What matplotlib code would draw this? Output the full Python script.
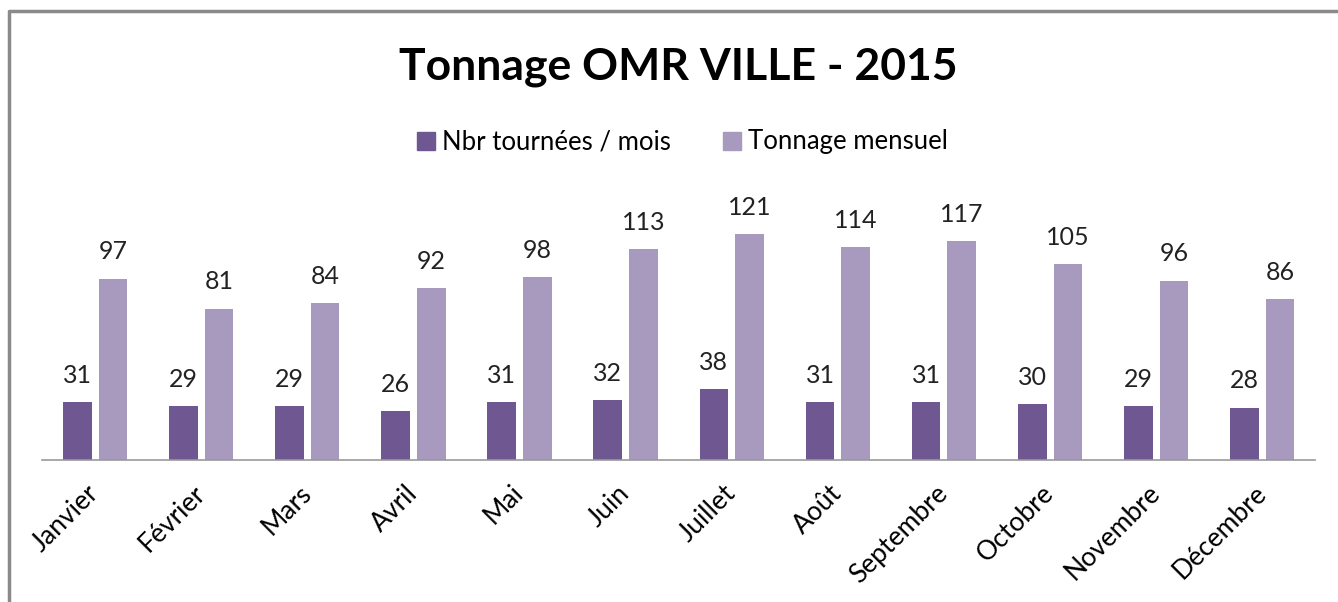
import matplotlib as mpl
import matplotlib.pyplot as plt
import numpy as np
from matplotlib.lines import Line2D
from matplotlib.patches import Patch

mpl.use("Agg")

months = ["Janvier", "Février", "Mars", "Avril", "Mai", "Juin",
          "Juillet", "Août", "Septembre", "Octobre", "Novembre", "Décembre"]
tournees = [31, 29, 29, 26, 31, 32, 38, 31, 31, 30, 29, 28]
tonnage = [97, 81, 84, 92, 98, 113, 121, 114, 117, 105, 96, 86]

dark = "#6f5791"
light = "#a899bf"

plt.rcParams["font.family"] = ["Lato", "DejaVu Sans"]

fig = plt.figure(figsize=(13.38, 6.02), dpi=100)
ax = fig.add_axes([0.0314, 0.2359, 0.9517, 0.4817])

x = np.arange(len(months))
w = 0.27
b1 = ax.bar(x - 0.168, tournees, w, color=dark)
b2 = ax.bar(x + 0.168, tonnage, w, color=light)
ax.bar_label(b1, padding=11, fontsize=18, color="#222222")
ax.bar_label(b2, padding=11, fontsize=18, color="#222222")

ax.set_xlim(-0.5, len(months) - 0.5)
ax.set_ylim(0, 155.2)
ax.set_yticks([])
ax.set_xticks(x)
ax.set_xticklabels(months, rotation=45, ha="right", va="center",
                   rotation_mode="anchor", fontsize=19)
ax.tick_params(axis="x", length=0, pad=21)
for s in ["left", "right", "top"]:
    ax.spines[s].set_visible(False)
ax.spines["bottom"].set_color("#999999")
ax.spines["bottom"].set_linewidth(1.2)

fig.text(0.507, 0.889, "Tonnage OMR VILLE - 2015", ha="center", va="center",
         fontsize=32, fontweight="bold")

handles = [Patch(color=dark), Patch(color=light)]
fig.legend(handles, ["Nbr tournées / mois", "Tonnage mensuel"],
           loc="center", bbox_to_anchor=(0.51, 1 - 142 / 602), ncol=2,
           frameon=False, fontsize=18.5, handlelength=0.7, handleheight=0.7,
           handletextpad=0.3, columnspacing=2.0)

# chart border (top and left edges visible)
fig.add_artist(Line2D([0.0067, 0.0067, 1.0], [0.0, 0.9817, 0.9817],
                      transform=fig.transFigure, color="#8a8a8a", lw=2.5))

fig.savefig("out.png", dpi=100)
